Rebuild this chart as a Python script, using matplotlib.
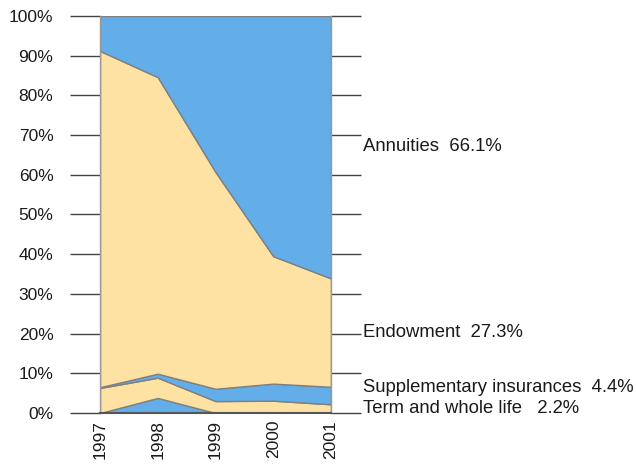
import matplotlib
matplotlib.use("Agg")
import matplotlib.pyplot as plt
import numpy as np

plt.rcParams['font.family'] = ['Liberation Sans', 'DejaVu Sans']

# Share of premiums by line of business, percent
years = ["1997", "1998", "1999", "2000", "2001"]
other = [0.0, 3.8, 0.0, 0.0, 0.0]
term_life = [6.3, 5.1, 3.0, 3.1, 2.2]
supplementary = [0.2, 1.0, 3.1, 4.3, 4.4]
endowment = [84.7, 74.7, 54.6, 32.1, 27.3]
annuities = [8.8, 15.4, 39.3, 60.5, 66.1]

labels = ["Annuities  66.1%", "Endowment  27.3%",
          "Supplementary insurances  4.4%", "Term and whole life   2.2%"]
label_pos = [67.2, 20.3, 6.4, 1.1]

blue = "#63aee8"
yellow = "#fee2a3"

fig = plt.figure(figsize=(6.36, 4.70), dpi=100)
ax = fig.add_axes([100 / 636, 57 / 470, 231 / 636, 397 / 470])

x = np.arange(len(years))
ax.stackplot(x, other, term_life, supplementary, endowment, annuities,
             colors=[blue, yellow, blue, yellow, blue],
             edgecolor="#808080", linewidth=1.0)

ax.set_xlim(0, len(years) - 1)
ax.set_ylim(0, 100)
ax.set_yticks(np.arange(0, 101, 10))
ax.set_yticklabels([f"{v}%" for v in range(0, 101, 10)], fontsize=12.5, color="#1a1a1a")
ax.set_xticks(x)
ax.set_xticklabels(years, rotation=90, fontsize=12.5, color="#1a1a1a")

ax.tick_params(axis="y", which="both", left=True, right=True, direction="out",
               length=21.5, width=1.0, color="#444444", pad=12)
ax.tick_params(axis="x", length=0, pad=5)

for side in ["left", "right"]:
    ax.spines[side].set_color("#999999")
    ax.spines[side].set_linewidth(1.0)
ax.spines["top"].set_visible(False)
ax.spines["bottom"].set_color("#555555")
ax.spines["bottom"].set_linewidth(1.5)

for text, yv in zip(labels, label_pos):
    ax.text(1.138, yv, text, transform=ax.get_yaxis_transform(), fontsize=13.3,
            va="center", ha="left", color="#1a1a1a", clip_on=False)

fig.savefig("out.png", dpi=100)
